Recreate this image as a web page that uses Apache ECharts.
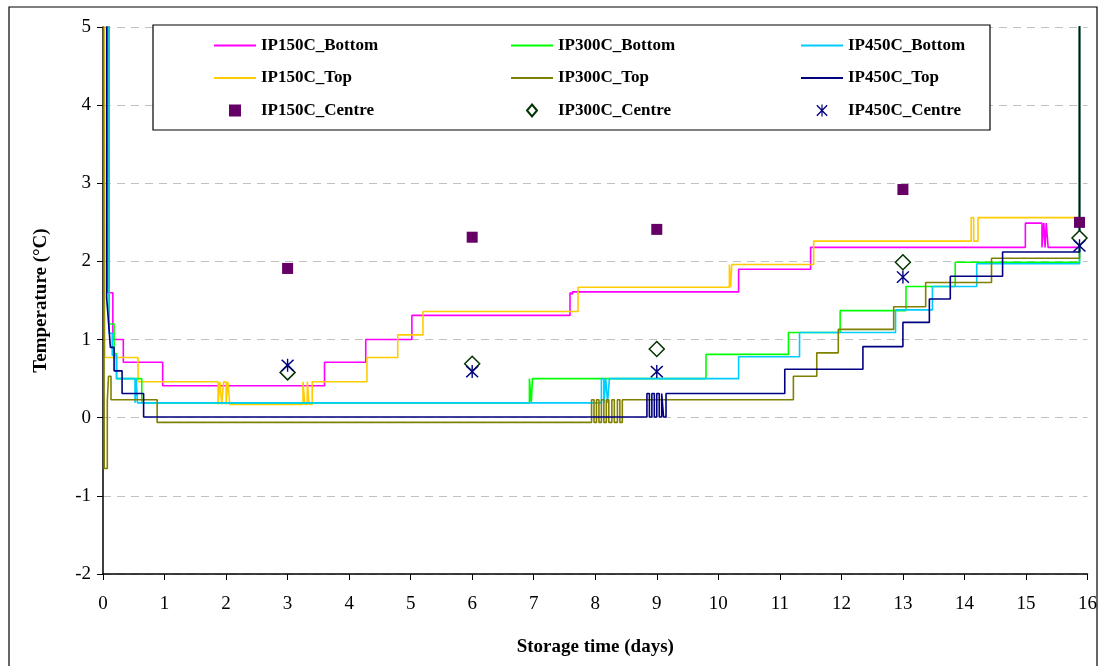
<!DOCTYPE html>
<html>
<head>
<meta charset="utf-8">
<script src="https://cdn.jsdelivr.net/npm/echarts@6/dist/echarts.min.js"></script>
<style>html,body{margin:0;padding:0;background:#fff}#c{width:1100px;height:666px}</style>
</head>
<body>
<div id="c"></div>
<script>
// ---- data: [storage time (days), temperature (°C)] change points ----
var xTicks = [0,1,2,3,4,5,6,7,8,9,10,11,12,13,14,15,16];
var yTicks = [-2,-1,0,1,2,3,4,5];

var ip150Bottom = [[0,9],[0.08,1.6],[0.16,1.0],[0.33,0.71],[0.97,0.41],[3.6,0.71],[4.27,1.0],[5.02,1.31],[7.59,1.6],[7.61,1.58],[7.63,1.61],[10.33,1.9],[11.5,2.18],[14.99,2.49],[15.26,2.18],[15.29,2.49],[15.31,2.18],[15.33,2.49],[15.36,2.18],[15.87,9]];
var ip150Top = [[0,9],[0.03,0.77],[0.57,0.46],[1.87,0.17],[1.9,0.46],[1.93,0.17],[1.96,0.46],[2.0,0.17],[2.03,0.46],[2.06,0.17],[3.25,0.46],[3.28,0.17],[3.32,0.46],[3.35,0.17],[3.4,0.46],[4.29,0.77],[4.79,1.06],[5.2,1.36],[7.72,1.67],[10.18,1.96],[10.2,1.67],[10.22,1.96],[11.55,2.26],[14.11,2.56],[14.15,2.26],[14.22,2.56],[15.87,9]];
var ip300Bottom = [[0,9],[0.1,1.2],[0.18,0.82],[0.22,0.5],[0.63,0.19],[6.93,0.5],[6.96,0.19],[6.98,0.5],[9.8,0.81],[11.14,1.09],[11.98,1.37],[13.05,1.68],[13.08,1.68],[13.85,1.99],[15.87,9]];
var ip450Bottom = [[0,9],[0.1,1.08],[0.15,0.8],[0.22,0.5],[0.52,0.19],[0.54,0.5],[0.56,0.19],[8.1,0.5],[8.14,0.19],[8.17,0.5],[8.2,0.19],[8.23,0.5],[10.33,0.78],[11.32,1.09],[12.88,1.38],[13.48,1.68],[14.2,1.97],[15.87,9]];
var ip300Top = [[0,9],[0.02,-0.65],[0.07,0.22],[0.09,0.53],[0.13,0.23],[0.88,-0.06],[7.94,0.23],[7.98,-0.06],[8.02,0.23],[8.06,-0.06],[8.1,0.23],[8.14,-0.06],[8.18,0.23],[8.22,-0.06],[8.27,0.23],[8.31,-0.06],[8.36,0.23],[8.4,-0.06],[8.44,0.23],[11.22,0.53],[11.6,0.83],[11.95,1.13],[12.85,1.42],[13.37,1.73],[14.44,2.04],[15.87,9]];
var ip450Top = [[0,9],[0.06,1.53],[0.09,1.22],[0.12,0.9],[0.18,0.6],[0.31,0.31],[0.66,0.01],[8.84,0.31],[8.88,0.01],[8.92,0.31],[8.96,0.01],[9.0,0.31],[9.04,0.01],[9.08,0.31],[9.11,0.01],[9.15,0.31],[11.08,0.62],[11.12,0.62],[12.35,0.91],[13.0,1.22],[13.43,1.52],[13.77,1.81],[14.62,2.12],[15.87,9]];

var ip150Centre = [[3,1.91],[6,2.31],[9,2.41],[13,2.92],[15.87,2.5]];
var ip300Centre = [[3,0.58],[6,0.69],[9,0.88],[13,1.99],[15.87,2.3]];
var ip450Centre = [[3,0.67],[6,0.59],[9,0.59],[13,1.8],[15.87,2.2]];

var FONT = '"Liberation Serif","Times New Roman",serif';
var asterisk = 'path://M9,0 L11,0 L11,20 L9,20 Z M0.6,2 L2.2,0.6 L19.4,18 L17.8,19.4 Z M17.8,0.6 L19.4,2 L2.2,19.4 L0.6,18 Z';
var lineIcon = 'path://M0,0 L42,0 L42,2 L0,2 Z';
var squareIcon = 'path://M0,0 L10,0 L10,10 L0,10 Z';
var diamondIcon = 'path://M5,0 L10,6 L5,12 L0,6 Z';

function lineSeries(name, data, color) {
  return {name: name, type: 'line', step: 'end', data: data, symbol: 'none', showSymbol: false,
    lineStyle: {color: color, width: 1.6}, itemStyle: {color: color}, clip: true, animation: false};
}

var chart = echarts.init(document.getElementById('c'), null, {renderer: 'canvas'});
var legendCommon = {orient: 'vertical', itemWidth: 42, itemHeight: 12, itemGap: 15.5,
  textStyle: {fontFamily: FONT, fontWeight: 'bold', fontSize: 17, color: '#000'}, z: 6};

function legendData(names) {
  return [
    {name: names[0], icon: lineIcon},
    {name: names[1], icon: lineIcon},
    {name: names[2], icon: names[3]}
  ];
}

chart.setOption({
  backgroundColor: '#fff',
  animation: false,
  graphic: [
    {type: 'rect', z: 0, shape: {x: 9, y: 7, width: 1088, height: 700}, style: {fill: 'none', stroke: '#000', lineWidth: 1.2}},
    {type: 'rect', z: 5, shape: {x: 153, y: 25, width: 837, height: 105}, style: {fill: '#fff', stroke: '#000', lineWidth: 1.2}}
  ],
  legend: [
    Object.assign({left: 209, top: 32, data: legendData(['IP150C_Bottom', 'IP150C_Top', 'IP150C_Centre', squareIcon])}, legendCommon),
    Object.assign({left: 506, top: 32, data: legendData(['IP300C_Bottom', 'IP300C_Top', 'IP300C_Centre', diamondIcon])}, legendCommon),
    Object.assign({left: 796, top: 32, data: legendData(['IP450C_Bottom', 'IP450C_Top', 'IP450C_Centre', asterisk])}, legendCommon)
  ],
  grid: {left: 103, right: 12, top: 27, bottom: 92, containLabel: false},
  xAxis: {
    type: 'value', min: 0, max: 16, interval: 1,
    name: 'Storage time (days)', nameLocation: 'middle', nameGap: 64,
    nameTextStyle: {fontFamily: FONT, fontWeight: 'bold', fontSize: 19, color: '#000'},
    axisLine: {show: true, onZero: false, lineStyle: {color: '#000', width: 1.5}},
    axisTick: {show: true, inside: false, length: 6, lineStyle: {color: '#000', width: 1}},
    axisLabel: {fontFamily: FONT, fontSize: 19, color: '#000', margin: 21,
      formatter: function (v) { return xTicks.indexOf(v) >= 0 ? String(v) : ''; }},
    splitLine: {show: false}
  },
  yAxis: {
    type: 'value', min: -2, max: 5, interval: 1,
    name: 'Temperature (°C)', nameLocation: 'middle', nameGap: 52, nameRotate: 90,
    nameTextStyle: {fontFamily: FONT, fontWeight: 'bold', fontSize: 19, color: '#000'},
    axisLine: {show: true, onZero: false, lineStyle: {color: '#000', width: 1.5}},
    axisTick: {show: true, inside: false, length: 6, lineStyle: {color: '#000', width: 1}},
    axisLabel: {fontFamily: FONT, fontSize: 19, color: '#000', margin: 12,
      formatter: function (v) { return yTicks.indexOf(v) >= 0 ? String(v) : ''; }},
    splitLine: {show: true, lineStyle: {color: '#c0c0c0', type: [8, 6], width: 1}}
  },
  series: [
    lineSeries('IP150C_Bottom', ip150Bottom, '#FF00FF'),
    lineSeries('IP150C_Top', ip150Top, '#FFCC00'),
    lineSeries('IP300C_Bottom', ip300Bottom, '#00FF00'),
    lineSeries('IP450C_Bottom', ip450Bottom, '#00CCFF'),
    lineSeries('IP300C_Top', ip300Top, '#808000'),
    lineSeries('IP450C_Top', ip450Top, '#000080'),
    {name: 'IP150C_Centre', type: 'scatter', data: ip150Centre, symbol: 'rect', symbolSize: 11,
      itemStyle: {color: '#660066', opacity: 1}, z: 4},
    {name: 'IP300C_Centre', type: 'scatter', data: ip300Centre, symbol: 'diamond', symbolSize: [15, 15],
      itemStyle: {color: '#ffffff', borderColor: '#003300', borderWidth: 1.5, opacity: 1}, z: 4},
    {name: 'IP450C_Centre', type: 'scatter', data: ip450Centre, symbol: asterisk, symbolSize: 13,
      itemStyle: {color: '#000080', opacity: 1}, z: 4}
  ]
});
</script>
</body>
</html>
